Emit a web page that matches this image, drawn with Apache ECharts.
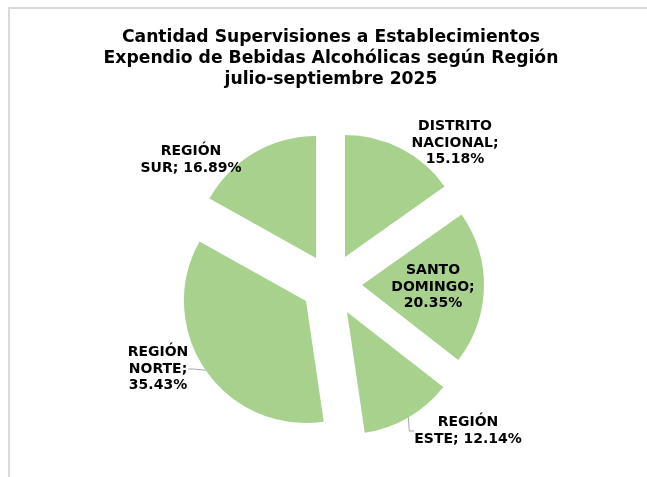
<!DOCTYPE html>
<html>
<head>
<meta charset="utf-8">
<script src="https://cdn.jsdelivr.net/npm/echarts@6/dist/echarts.min.js"></script>
<style>
  html, body { margin: 0; padding: 0; background: #fff; }
  #chart { width: 647px; height: 477px; }
</style>
</head>
<body>
<div id="chart"></div>
<script>
// data
var regiones = ["DISTRITO NACIONAL", "SANTO DOMINGO", "REGIÓN ESTE", "REGIÓN NORTE", "REGIÓN SUR"];
var porcentajes = [15.18, 20.35, 12.14, 35.43, 16.89];
// how each label breaks its name
var etiquetas = ["DISTRITO\nNACIONAL;\n", "SANTO\nDOMINGO;\n", "REGIÓN\nESTE; ", "REGIÓN\nNORTE;\n", "REGIÓN\nSUR; "];

var verde = "#a9d18e";
var fuente = "DejaVu Sans";

// where each exploded slice sits and where its label goes
var centros = [[345, 257], [362, 285], [347, 312], [306, 301], [316, 258]];
var posEtiqueta = [[455, 143], [433, 287], [468, 431], [158, 369], [191, 160]];
var conLinea = [false, false, true, true, false];

var chart = echarts.init(document.getElementById("chart"));

var series = [];
for (var k = 0; k < regiones.length; k++) {
  var datos = [];
  for (var i = 0; i < regiones.length; i++) {
    datos.push({
      name: regiones[i],
      value: porcentajes[i],
      itemStyle: { color: i === k ? verde : "rgba(0,0,0,0)" },
      label: { show: i === k },
      labelLine: { show: i === k && conLinea[k] }
    });
  }
  series.push({
    type: "pie",
    center: centros[k],
    radius: 122,
    startAngle: 90,
    clockwise: true,
    silent: true,
    animation: false,
    avoidLabelOverlap: false,
    label: {
      position: "outside",
      formatter: (function (idx) {
        return function (p) { return etiquetas[idx] + p.value.toFixed(2) + "%"; };
      })(k),
      color: "#000",
      fontFamily: fuente,
      fontWeight: "bold",
      fontSize: 14,
      lineHeight: 16.5,
      align: "center"
    },
    labelLine: {
      length: 10,
      length2: 5,
      lineStyle: { color: "#a6a6a6", width: 1 }
    },
    labelLayout: {
      x: posEtiqueta[k][0],
      y: posEtiqueta[k][1],
      align: "center",
      verticalAlign: "middle"
    },
    data: datos
  });
}

chart.setOption({
  backgroundColor: "#fff",
  title: {
    text: "Cantidad Supervisiones a Establecimientos\nExpendio de Bebidas Alcohólicas según Región\njulio-septiembre 2025",
    left: 326,
    textAlign: "center",
    top: 22,
    textStyle: {
      fontFamily: fuente,
      fontWeight: "bold",
      fontSize: 17.2,
      lineHeight: 21,
      color: "#000"
    }
  },
  graphic: [{
    type: "rect",
    shape: { x: 9, y: 8, width: 700, height: 600 },
    style: { fill: "none", stroke: "#d9d9d9", lineWidth: 2 },
    silent: true
  }],
  series: series
});
</script>
</body>
</html>
